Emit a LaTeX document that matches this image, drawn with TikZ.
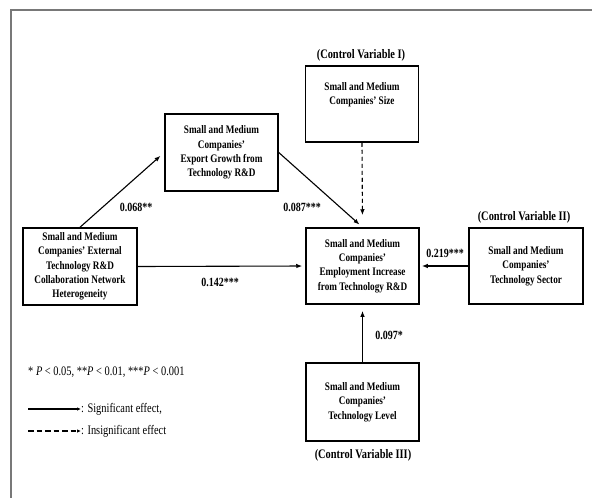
\documentclass[tikz,border=0pt]{standalone}
\usepackage{fontspec}
\setmainfont{Liberation Serif}[FakeStretch=0.8]
\usetikzlibrary{arrows.meta}
\definecolor{framegray}{RGB}{120,120,120}
\tikzset{
  box/.style={draw, line width=1.5pt, minimum width=113pt, minimum height=77pt, align=center,
    font=\fontsize{11.5}{14.3}\selectfont\bfseries, inner sep=2pt},
  cvlabel/.style={font=\fontsize{13}{15}\selectfont\bfseries, inner sep=0pt},
  coef/.style={font=\fontsize{12.5}{15}\selectfont\bfseries, inner sep=0pt},
  legtext/.style={font=\fontsize{13}{15}\selectfont, inner sep=0pt},
  arr/.style={line width=1.1pt, -{Latex[length=6pt,width=4.5pt]}},
  darr/.style={arr, dash pattern=on 4pt off 3pt},
}
\begin{document}
\begin{tikzpicture}[x=1pt,y=-1pt]
\useasboundingbox (0,0) rectangle (592,498);
\draw[framegray, line width=2pt] (11,498) -- (11,9.5) -- (592,9.5);

\node[box, minimum height=76pt] (cv1) at (362,104) {Small and Medium\\Companies' Size\\[6pt]};
\node[cvlabel] (cv1l) at (361,55) {(Control Variable I)};

\node[box] (ex) at (221.5,152.5) {Small and Medium\\Companies'\\Export Growth from\\Technology R\&D};

\node[box, minimum width=114pt] (lb) at (80,266.5) {Small and Medium\\Companies' External\\Technology R\&D\\Collaboration Network\\Heterogeneity};

\node[box, minimum height=76pt] (cb) at (362.5,266) {Small and Medium\\Companies'\\Employment Increase\\from Technology R\&D};

\node[box, minimum width=114pt, minimum height=76pt] (rb) at (526,266) {Small and Medium\\Companies'\\Technology Sector};
\node[cvlabel] (cv2l) at (524,217) {(Control Variable II)};

\node[box, minimum height=78pt] (bb) at (362.5,402) {Small and Medium\\Companies'\\Technology Level};
\node[cvlabel] (cv3l) at (363,455) {(Control Variable III)};

\draw[arr, shorten >=5pt] (lb.north) -- (ex.west);
\draw[arr, shorten >=4pt] (ex.east) -- (cb.north);
\draw[darr, shorten >=12pt] (cv1.south) -- (cb.north);
\draw[arr, shorten >=3pt] (lb.east) -- (cb.west);
\draw[arr, shorten >=2pt] (rb.west) -- (cb.east);
\draw[arr, shorten >=6pt] (bb.north) -- (cb.south);

\node[coef] (c1) at (136,207) {0.068**};
\node[coef] (c2) at (302,207) {0.087***};
\node[coef] (c3) at (220,282) {0.142***};
\node[coef] (c4) at (445,253) {0.219***};
\node[coef] (c5) at (389,335) {0.097*};

\node[legtext, anchor=west] (sig) at (28,372) {* \textit{P} < 0.05, **\textit{P} < 0.01, ***\textit{P} < 0.001};
\coordinate (l1a) at (28,409);
\node[legtext, anchor=west] (l1t) at (81,409) {: Significant effect,};
\draw[line width=1.1pt, -{Latex[length=4pt,width=3.5pt]}] (l1a) -- (l1t.west);
\coordinate (l2a) at (28,431);
\node[legtext, anchor=west] (l2t) at (81,431) {: Insignificant effect};
\draw[line width=1.1pt, dash pattern=on 5.5pt off 3pt, -{Latex[length=4pt,width=3.5pt]}] (l2a) -- (l2t.west);
\end{tikzpicture}
\end{document}
